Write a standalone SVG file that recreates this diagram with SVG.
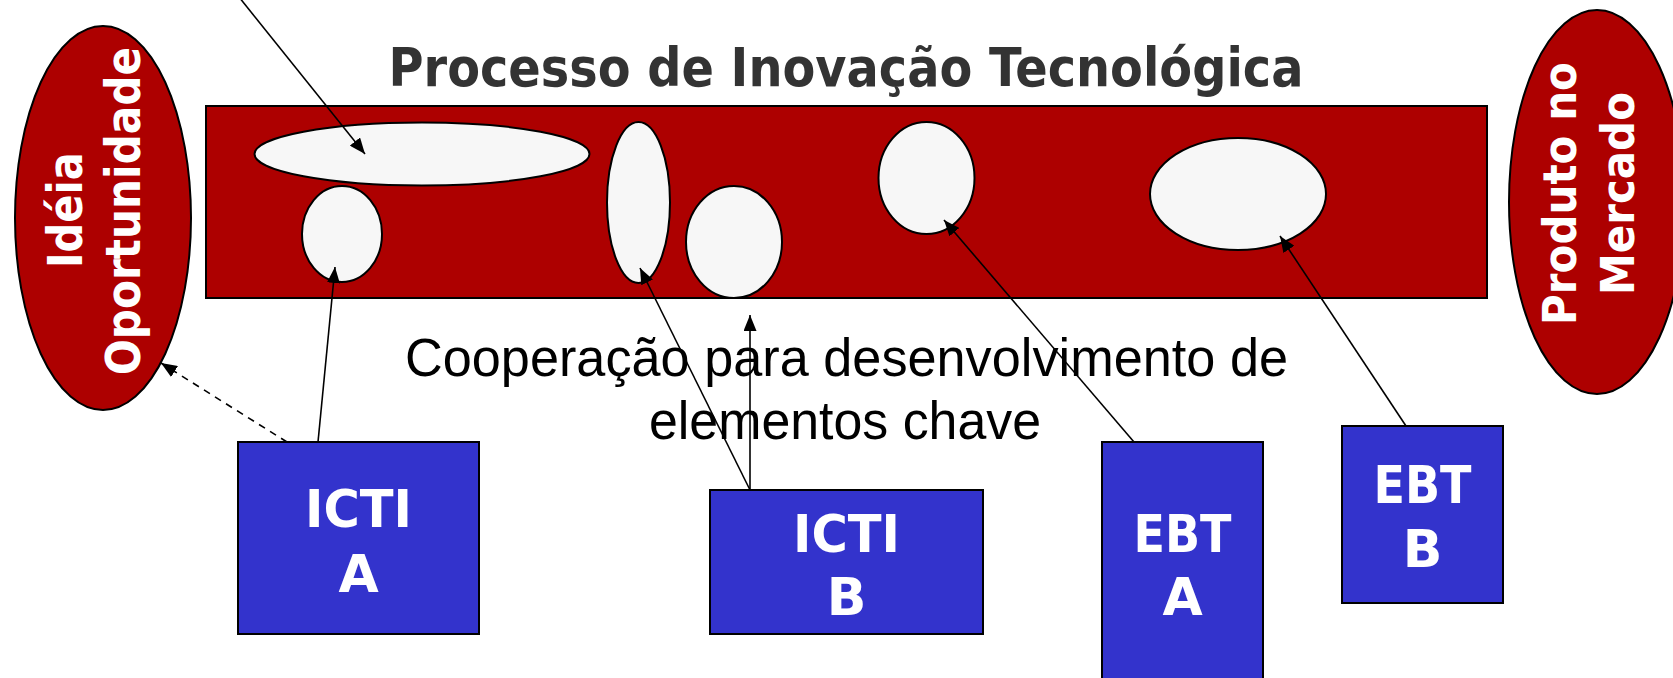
<svg xmlns="http://www.w3.org/2000/svg" width="1673" height="678" viewBox="0 0 1673 678">
  <style>
    .red { fill: #AD0000; stroke: #000; stroke-width: 2; }
    .blob { fill: #F7F7F7; stroke: #000; stroke-width: 2; }
    .box { fill: #3333CC; stroke: #000; stroke-width: 2; }
    .bw { font-family: "DejaVu Sans", "Liberation Sans", sans-serif; font-weight: bold; fill: #FFFFFF; }
    .title { font-family: "DejaVu Sans", "Liberation Sans", sans-serif; font-weight: bold; fill: #333333; font-size: 53px; }
    .note { font-family: "Liberation Sans Narrow", "Liberation Sans", sans-serif; fill: #000; font-size: 53px; }
    .conn { stroke: #000; stroke-width: 1.6; fill: none; }
    .dash { stroke-dasharray: 7 6; }
  </style>
  <defs>
    <marker id="arrow" viewBox="0 0 16 13" refX="16" refY="6.5" markerWidth="16" markerHeight="13" markerUnits="userSpaceOnUse" orient="auto">
      <path d="M0,0 L16,6.5 L0,13 z" fill="#000"/>
    </marker>
  </defs>

  <g id="title">
    <text class="title" x="846" y="86" text-anchor="middle" textLength="915" lengthAdjust="spacingAndGlyphs">Processo de Inovação Tecnológica</text>
  </g>

  <g id="processo">
    <rect class="red" x="206" y="106" width="1281" height="192"/>
  </g>

  <g id="elementos">
    <ellipse class="blob" cx="422" cy="154" rx="167.5" ry="31.5"/>
    <ellipse class="blob" cx="342" cy="234" rx="40" ry="48"/>
    <ellipse class="blob" cx="638.5" cy="202.5" rx="31.5" ry="80.5"/>
    <ellipse class="blob" cx="734" cy="242" rx="48" ry="56"/>
    <ellipse class="blob" cx="926.5" cy="178" rx="48" ry="56"/>
    <ellipse class="blob" cx="1238" cy="194" rx="88" ry="56"/>
  </g>

  <g id="ideia">
    <ellipse class="red" cx="103" cy="218" rx="88" ry="192"/>
    <text class="bw" font-size="48" transform="translate(81.5,210) rotate(-90)" text-anchor="middle" textLength="116" lengthAdjust="spacingAndGlyphs">Idéia</text>
    <text class="bw" font-size="48" transform="translate(139.5,211) rotate(-90)" text-anchor="middle" textLength="328" lengthAdjust="spacingAndGlyphs">Oportunidade</text>
  </g>

  <g id="produto">
    <ellipse class="red" cx="1597" cy="202" rx="88" ry="192"/>
    <text class="bw" font-size="46" transform="translate(1575.5,193.5) rotate(-90)" text-anchor="middle" textLength="263" lengthAdjust="spacingAndGlyphs">Produto no</text>
    <text class="bw" font-size="46" transform="translate(1634,193.5) rotate(-90)" text-anchor="middle" textLength="203" lengthAdjust="spacingAndGlyphs">Mercado</text>
  </g>

  <g id="cooperacao">
    <text class="note" x="846.5" y="376" text-anchor="middle" textLength="883" lengthAdjust="spacingAndGlyphs">Cooperação para desenvolvimento de</text>
    <text class="note" x="845" y="439" text-anchor="middle" textLength="392" lengthAdjust="spacingAndGlyphs">elementos chave</text>
  </g>

  <g id="icti-a">
    <rect class="box" x="238" y="442" width="241" height="192"/>
    <text class="bw" font-size="52" x="358.5" y="527" text-anchor="middle" textLength="107" lengthAdjust="spacingAndGlyphs">ICTI</text>
    <text class="bw" font-size="52" x="358.5" y="592" text-anchor="middle">A</text>
  </g>

  <g id="icti-b">
    <rect class="box" x="710" y="490" width="273" height="144"/>
    <text class="bw" font-size="52" x="846.5" y="552" text-anchor="middle" textLength="107" lengthAdjust="spacingAndGlyphs">ICTI</text>
    <text class="bw" font-size="52" x="846.5" y="615" text-anchor="middle">B</text>
  </g>

  <g id="ebt-a">
    <rect class="box" x="1102" y="442" width="161" height="245"/>
    <text class="bw" font-size="52" x="1182.5" y="552" text-anchor="middle" textLength="98" lengthAdjust="spacingAndGlyphs">EBT</text>
    <text class="bw" font-size="52" x="1182.5" y="615" text-anchor="middle">A</text>
  </g>

  <g id="ebt-b">
    <rect class="box" x="1342" y="426" width="161" height="177"/>
    <text class="bw" font-size="52" x="1422.5" y="503" text-anchor="middle" textLength="98" lengthAdjust="spacingAndGlyphs">EBT</text>
    <text class="bw" font-size="52" x="1422.5" y="567" text-anchor="middle">B</text>
  </g>

  <g id="connectors">
    <line class="conn" x1="239" y1="-3" x2="365" y2="154" marker-end="url(#arrow)"/>
    <line class="conn" x1="318" y1="442" x2="335" y2="267" marker-end="url(#arrow)"/>
    <line class="conn dash" x1="287" y1="442" x2="161" y2="363" marker-end="url(#arrow)"/>
    <line class="conn" x1="750" y1="490" x2="640" y2="268" marker-end="url(#arrow)"/>
    <line class="conn" x1="750" y1="490" x2="750" y2="315" marker-end="url(#arrow)"/>
    <line class="conn" x1="1134" y1="442" x2="944" y2="220" marker-end="url(#arrow)"/>
    <line class="conn" x1="1406" y1="426" x2="1280" y2="236" marker-end="url(#arrow)"/>
  </g>
</svg>
